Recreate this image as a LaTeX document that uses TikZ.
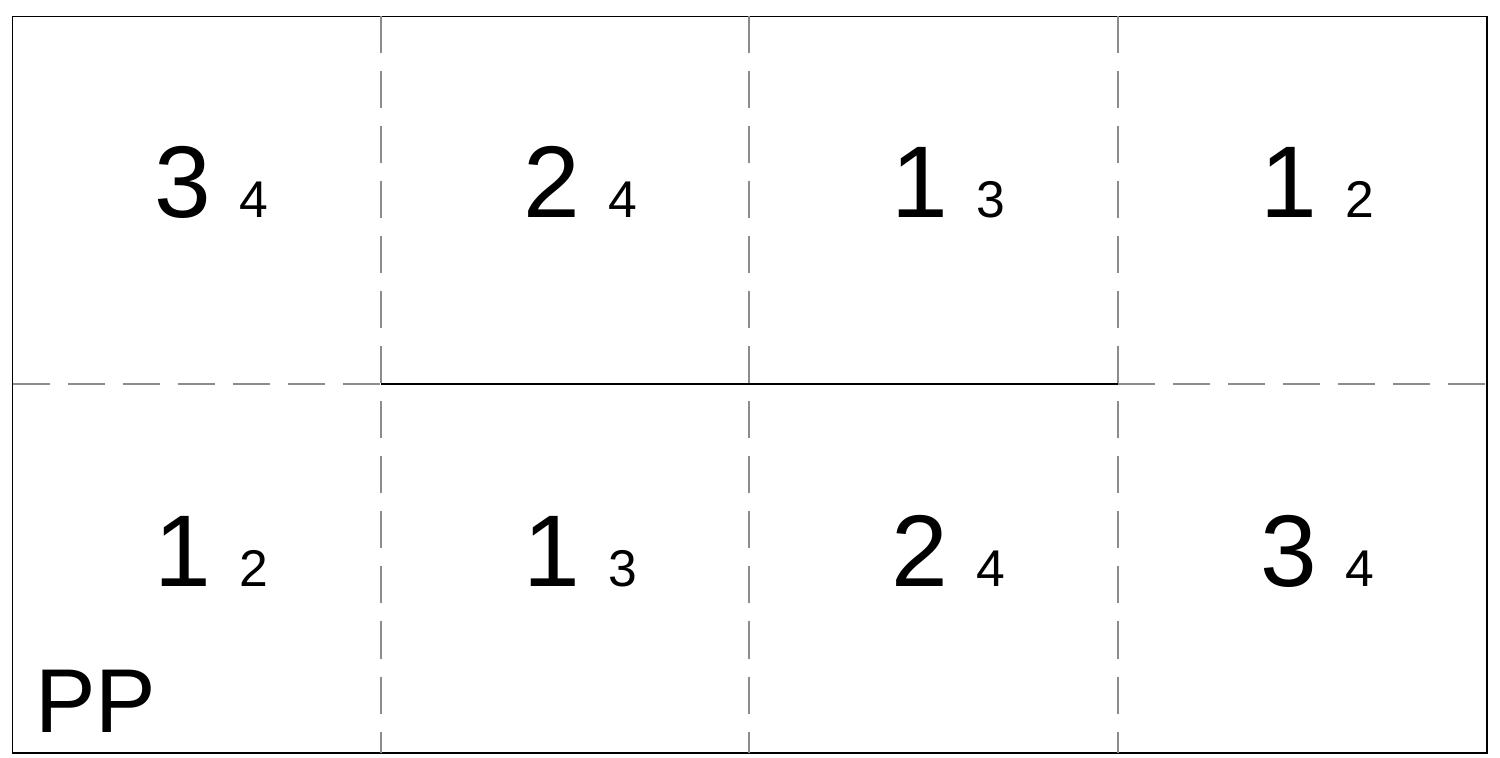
\documentclass[tikz,border=0pt]{standalone}
\usepackage{fontspec}
\setmainfont{Liberation Sans}
\definecolor{divgray}{HTML}{8C8C8C}
\newcommand{\bignum}{\fontsize{58}{58}\selectfont}
\newcommand{\smallnum}{\fontsize{29.4}{30}\selectfont}
\begin{document}
\begin{tikzpicture}
      \tikzset{divider/.style={draw=divgray, line width=0.6pt, dash pattern=on 0.74cm off 0.36cm},
               cellnum/.style={anchor=base west, inner sep=0pt}}
      \useasboundingbox (0,0) rectangle (30,15.16);
%% Frame
      \draw[line width=0.6pt] (0.25,0.1) rectangle (29.74,14.83);
%% Dividers
	%lodrette
		\path [divider] (7.62,14.83) -- (7.62,0.1);
		\path [divider] (14.98,14.83) -- (14.98,0.1);
		\path [divider] (22.36,14.83) -- (22.36,0.1);
	%vandrette
		\path [divider] (0.25,7.48) -- (7.62,7.48);
		\path [divider] (22.36,7.48) -- (29.74,7.48);
		\draw [line width=0.6pt] (7.62,7.48) -- (22.36,7.48);
%% Numbers
	%oeverste raekke
		\node[cellnum] (n11) at (3.09,10.8) {\bignum 3 \smallnum 4};
		\node[cellnum] (n12) at (10.46,10.8) {\bignum 2 \smallnum 4};
		\node[cellnum] (n13) at (17.82,10.8) {\bignum 1 \smallnum 3};
		\node[cellnum] (n14) at (25.20,10.8) {\bignum 1 \smallnum 2};
	%nederste raekke
		\node[cellnum] (n21) at (3.09,3.42) {\bignum 1 \smallnum 2};
		\node[cellnum] (n22) at (10.46,3.42) {\bignum 1 \smallnum 3};
		\node[cellnum] (n23) at (17.82,3.42) {\bignum 2 \smallnum 4};
		\node[cellnum] (n24) at (25.20,3.42) {\bignum 3 \smallnum 4};
%% Label
		\node[cellnum] (pp) at (0.7,0.5) {\fontsize{51.6}{52}\selectfont PP};
\end{tikzpicture}
\end{document}
